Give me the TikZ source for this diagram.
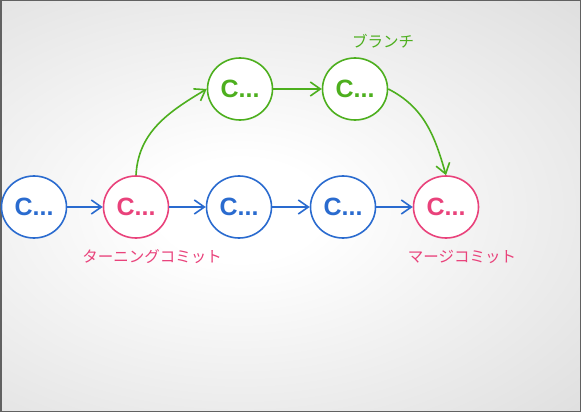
\documentclass[tikz,border=0pt]{standalone}
\usepackage{fontspec}
\setmainfont{Liberation Sans}
\newfontfamily\jpfont{Noto Sans CJK JP}
\usetikzlibrary{arrows.meta,shapes.geometric}
\definecolor{cblue}{HTML}{2A6BCF}
\definecolor{cpink}{HTML}{E9427B}
\definecolor{cgreen}{HTML}{4DAF1E}
\pgfdeclareradialshading{bgshade}{\pgfpoint{0bp}{0bp}}{color(0bp)=(white); color(6bp)=(white); color(50bp)=(black!19); color(71bp)=(black!26)}
\tikzset{
  commit/.style={ellipse, draw=#1, fill=white, text=#1, line width=1.6pt,
    minimum width=65pt, minimum height=62pt, inner sep=0pt,
    font=\fontsize{25}{25}\selectfont\bfseries},
  lbl/.style={text=#1, font=\jpfont\fontsize{15.5}{16}\selectfont, inner sep=0pt},
  arr/.style={draw=#1, line width=1.6pt, -{Straight Barb[length=10pt,width=14pt]}},
}
\begin{document}
\begin{tikzpicture}[x=1pt,y=-1pt]
\useasboundingbox (0,0) rectangle (581,412);
\begin{scope}
\clip (0,0) rectangle (581,412);
\shade[shading=bgshade] (-100,0) rectangle (581,420);
\end{scope}
\draw[black!62, line width=1.5pt] (0.75,0.75) rectangle (580.25,411.25);

\node[commit=cblue]  (c1) at (34,207)  {C...};
\node[commit=cpink]  (c2) at (136,207) {C...};
\node[commit=cblue]  (c3) at (239,207) {C...};
\node[commit=cblue]  (c4) at (343,207) {C...};
\node[commit=cpink]  (c5) at (446,207) {C...};
\node[commit=cgreen] (g1) at (240,89)  {C...};
\node[commit=cgreen] (g2) at (355,89)  {C...};

\node[lbl=cgreen] (lb) at (383,41)  {ブランチ};
\node[lbl=cpink]  (lt) at (152,257) {ターニングコミット};
\node[lbl=cpink]  (lm) at (462,257) {マージコミット};

\draw[arr=cblue] (c1) -- (c2);
\draw[arr=cblue] (c2) -- (c3);
\draw[arr=cblue] (c3) -- (c4);
\draw[arr=cblue] (c4) -- (c5);
\draw[arr=cgreen] (g1) -- (g2);
\draw[arr=cgreen] (c2.north) to[out=87,in=211] (g1.west);
\draw[arr=cgreen] (g2.east) to[out=-27,in=106] (c5.north);
\end{tikzpicture}
\end{document}
